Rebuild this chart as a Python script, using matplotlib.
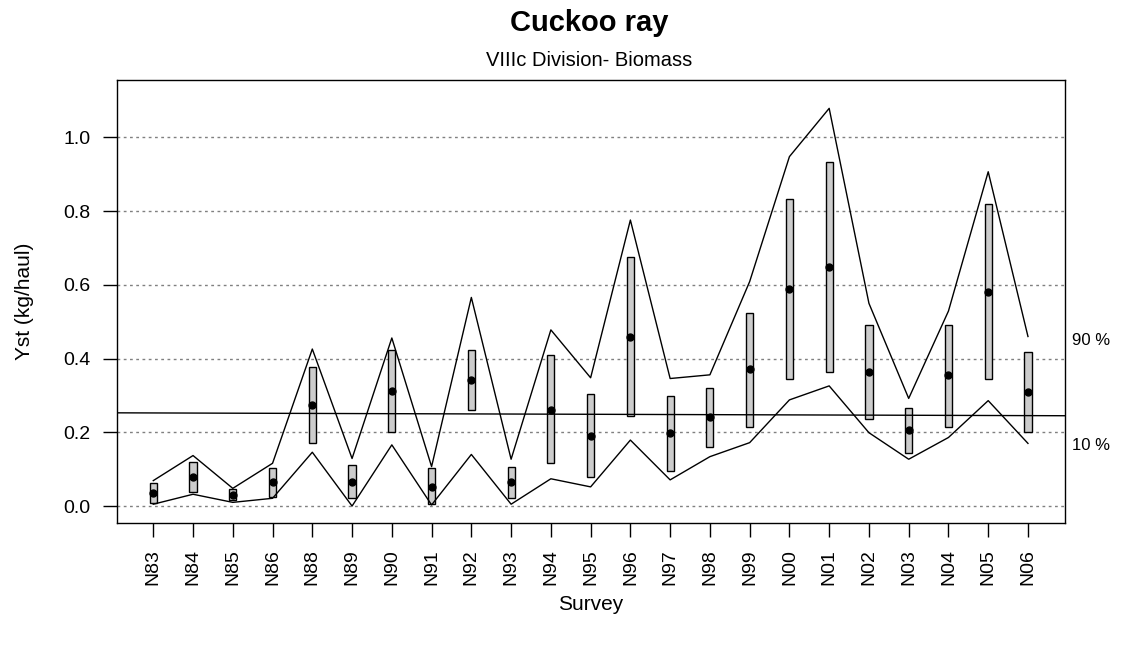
import matplotlib
matplotlib.use("Agg")
import matplotlib.pyplot as plt
import numpy as np

plt.rcParams['font.family'] = ['Liberation Sans', 'DejaVu Sans']

# survey labels
surveys = ['N83', 'N84', 'N85', 'N86', 'N88', 'N89', 'N90', 'N91', 'N92', 'N93',
           'N94', 'N95', 'N96', 'N97', 'N98', 'N99', 'N00', 'N01', 'N02', 'N03',
           'N04', 'N05', 'N06']

# 90 % and 10 % lines
upper90 = [0.069, 0.137, 0.048, 0.116, 0.426, 0.129, 0.456, 0.107, 0.566, 0.127,
           0.478, 0.348, 0.776, 0.346, 0.356, 0.609, 0.948, 1.079, 0.550, 0.292,
           0.529, 0.907, 0.460]
lower10 = [0.005, 0.032, 0.010, 0.021, 0.146, 0.000, 0.166, 0.003, 0.140, 0.005,
           0.074, 0.052, 0.179, 0.071, 0.134, 0.172, 0.288, 0.326, 0.199, 0.127,
           0.186, 0.286, 0.170]

# grey boxes (interval) and mean
box_top = [0.062, 0.120, 0.045, 0.103, 0.376, 0.111, 0.423, 0.102, 0.423, 0.107,
           0.410, 0.304, 0.675, 0.299, 0.320, 0.525, 0.833, 0.934, 0.491, 0.265,
           0.491, 0.820, 0.419]
box_bottom = [0.009, 0.039, 0.016, 0.025, 0.172, 0.022, 0.201, 0.005, 0.261, 0.022,
              0.116, 0.078, 0.244, 0.095, 0.159, 0.214, 0.346, 0.363, 0.235, 0.143,
              0.215, 0.346, 0.202]
yst = [0.036, 0.078, 0.030, 0.066, 0.274, 0.064, 0.311, 0.051, 0.342, 0.065,
       0.261, 0.189, 0.458, 0.197, 0.242, 0.372, 0.589, 0.649, 0.365, 0.206,
       0.355, 0.581, 0.309]

# overall trend line
trend_intercept = 0.2526
trend_slope = -0.00033

yticks = [0.0, 0.2, 0.4, 0.6, 0.8, 1.0]

x = np.arange(len(surveys))

fig = plt.figure(figsize=(11.28, 6.46), dpi=100)
ax = fig.add_axes([0.1037, 0.1904, 0.8404, 0.6858])

# dotted grid
for v in yticks:
    ax.axhline(v, color='#808080', lw=1.0, linestyle=(0, (2, 2.5)), zorder=1)

heights = np.array(box_top) - np.array(box_bottom)
ax.bar(x, heights, bottom=box_bottom, width=0.18, color='#cccccc',
       edgecolor='black', linewidth=1.0, zorder=2)

ax.plot(x, upper90, color='black', lw=1.0, zorder=3)
ax.plot(x, lower10, color='black', lw=1.0, zorder=3)
ax.axline((0, trend_intercept), slope=trend_slope, color='black', lw=1.0, zorder=3)
ax.plot(x, yst, 'o', color='black', ms=5, zorder=4)

ax.text(x[-1] + 1.1, upper90[-1] - 0.012, '90 %', fontsize=12, va='center',
        ha='left', clip_on=False)
ax.text(x[-1] + 1.1, lower10[-1] - 0.007, '10 %', fontsize=12, va='center',
        ha='left', clip_on=False)

ax.set_xlim(-0.913, 22.93)
ax.set_ylim(-0.046, 1.156)
ax.set_xticks(x)
ax.set_xticklabels(surveys, rotation=90)
ax.set_yticks(yticks)
ax.set_yticklabels(['%.1f' % v for v in yticks])
ax.tick_params(axis='both', direction='out', length=10, width=1.0,
               labelsize=14, pad=9)
for s in ax.spines.values():
    s.set_linewidth(1.0)

ax.set_xlabel('Survey', fontsize=15, labelpad=7)
ax.set_ylabel('Yst (kg/haul)', fontsize=15, labelpad=21)

fig.text(0.522, 1 - 23 / 646, 'Cuckoo ray', fontsize=21, fontweight='bold',
         ha='center', va='center')
fig.text(0.522, 1 - 61 / 646, 'VIIIc Division- Biomass', fontsize=14.5,
         ha='center', va='center')

fig.savefig('out.png', dpi=100)
